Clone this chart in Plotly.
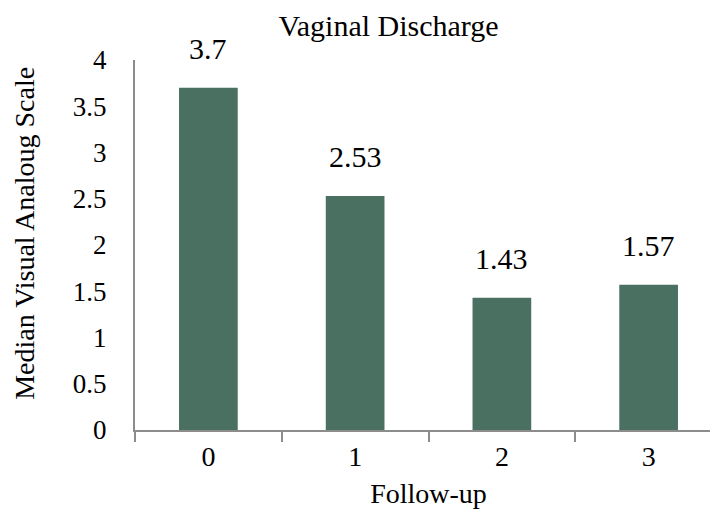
import plotly.graph_objects as go

follow_up = ["0", "1", "2", "3"]
median_vas = [3.7, 2.53, 1.43, 1.57]
value_labels = ["3.7", "2.53", "1.43", "1.57"]

serif = "Liberation Serif, Times New Roman, serif"

fig = go.Figure(
    go.Bar(
        x=follow_up,
        y=median_vas,
        marker=dict(color="#4a7062", line=dict(width=0)),
    )
)

# value labels sit well above the bar tops, as in the original
for cat, val, lab in zip(follow_up, median_vas, value_labels):
    fig.add_annotation(x=cat, y=val, text=lab, showarrow=False,
                       yanchor="bottom", yshift=21,
                       font=dict(family=serif, size=30, color="black"))

# y title sits a little above the middle of the axis in the original
fig.add_annotation(text="Median Visual Analoug Scale", textangle=-90,
                   xref="paper", yref="paper", x=-0.188, y=0.532,
                   xanchor="center", yanchor="middle", showarrow=False,
                   font=dict(family=serif, size=28, color="black"))

fig.update_layout(
    width=718,
    height=517,
    margin=dict(l=127, r=4, t=52, b=95, autoexpand=False),
    paper_bgcolor="white",
    plot_bgcolor="white",
    bargap=0.6,
    showlegend=False,
    font=dict(family=serif, size=28, color="black"),
    title=dict(text="Vaginal Discharge", x=0.53, xanchor="center",
               y=1 - 17 / 517, yanchor="middle",
               font=dict(family=serif, size=30, color="black")),
)
fig.update_xaxes(
    title=dict(text="Follow-up", font=dict(size=28), standoff=13),
    automargin=False,
    showline=True, linecolor="#8c8c8c", linewidth=2,
    ticks="outside", tickson="boundaries", ticklen=10, tickcolor="#8c8c8c", tickwidth=2,
    tickfont=dict(size=28), ticklabelstandoff=0,
    showgrid=False,
)
fig.update_yaxes(
    automargin=False,
    range=[0, 4], dtick=0.5,
    showline=True, linecolor="#8c8c8c", linewidth=2,
    ticks="", tickfont=dict(size=27), ticklabelstandoff=21,
    showgrid=False, zeroline=False,
)

fig.write_html("out.html")
